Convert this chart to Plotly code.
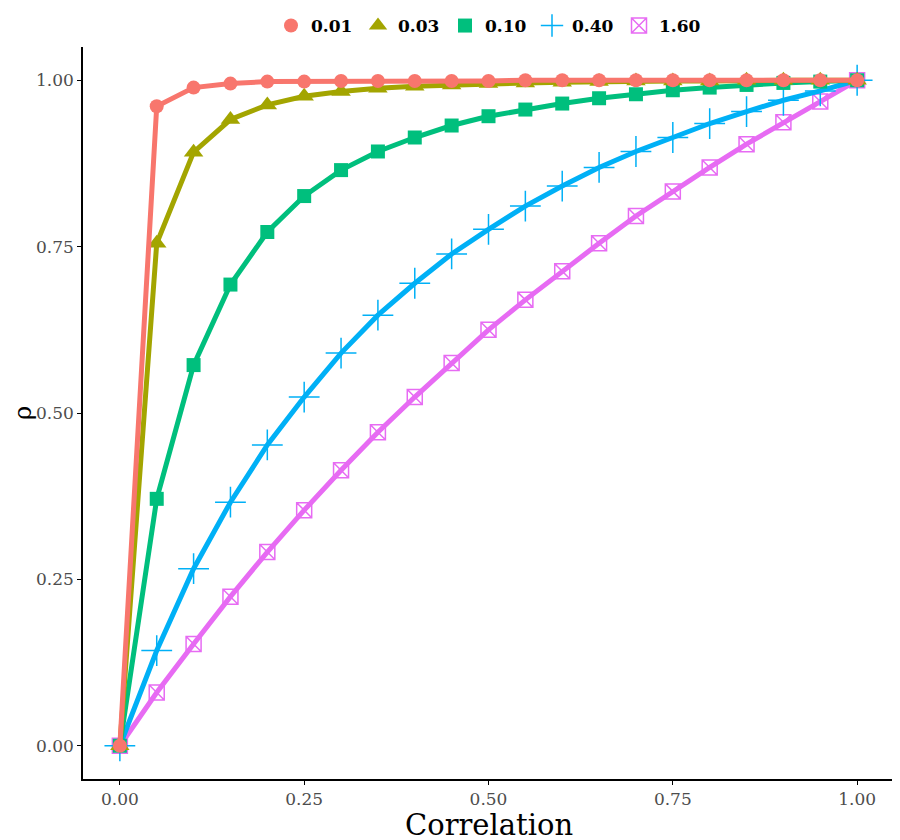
import plotly.graph_objects as go

# correlation grid and rho values per sigma
correlation = [0.00, 0.05, 0.10, 0.15, 0.20, 0.25, 0.30, 0.35, 0.40, 0.45, 0.50,
               0.55, 0.60, 0.65, 0.70, 0.75, 0.80, 0.85, 0.90, 0.95, 1.00]

rho_001 = [0.000, 0.961, 0.989, 0.995, 0.998, 0.998, 0.999, 0.999, 0.999, 0.999, 0.999,
           1.000, 1.000, 1.000, 1.000, 1.000, 1.000, 1.000, 1.000, 1.000, 1.000]
rho_003 = [0.000, 0.755, 0.892, 0.941, 0.963, 0.976, 0.983, 0.988, 0.991, 0.993, 0.995,
           0.996, 0.997, 0.998, 0.999, 0.999, 0.999, 1.000, 1.000, 1.000, 1.000]
rho_010 = [0.000, 0.371, 0.572, 0.693, 0.772, 0.826, 0.865, 0.893, 0.914, 0.932, 0.946,
           0.956, 0.965, 0.973, 0.979, 0.985, 0.989, 0.993, 0.996, 0.998, 1.000]
rho_040 = [0.000, 0.143, 0.266, 0.366, 0.452, 0.524, 0.590, 0.647, 0.695, 0.739, 0.776,
           0.811, 0.841, 0.869, 0.893, 0.914, 0.935, 0.953, 0.970, 0.984, 1.000]
rho_160 = [0.000, 0.080, 0.153, 0.224, 0.291, 0.354, 0.414, 0.471, 0.524, 0.575, 0.625,
           0.670, 0.713, 0.755, 0.796, 0.833, 0.869, 0.904, 0.937, 0.968, 1.000]

series_names = ["0.01", "0.03", "0.10", "0.40", "1.60"]
series_values = [rho_001, rho_003, rho_010, rho_040, rho_160]
colors = ["#F8766D", "#A3A500", "#00BF7D", "#00B0F6", "#E76BF3"]
symbols = ["circle", "triangle-up", "square", "cross-thin", "square-x-open"]
sizes = [14, 17, 14, 22, 15]

fig = go.Figure()

# draw in reverse so the 0.01 series sits on top, like the original
for name, vals, col, sym, sz in reversed(list(zip(series_names, series_values, colors, symbols, sizes))):
    fig.add_trace(go.Scatter(
        x=correlation, y=vals, mode="lines+markers", name=name,
        line=dict(color=col, width=5),
        marker=dict(symbol=sym, size=sz, color=col,
                    line=dict(color=col, width=1.5 if sym in ("cross-thin", "square-x-open") else 0)),
        showlegend=False,
    ))

# legend-only entries (marker glyph only, as ggplot shows them)
for name, col, sym, sz in zip(series_names, colors, symbols, sizes):
    fig.add_trace(go.Scatter(
        x=[None], y=[None], mode="markers", name=name,
        marker=dict(symbol=sym, size=sz, color=col,
                    line=dict(color=col, width=1.5 if sym in ("cross-thin", "square-x-open") else 0)),
    ))

axis_font = dict(family="DejaVu Serif", size=17, color="#4D4D4D")
ticks = [0, 0.25, 0.5, 0.75, 1.0]
tick_labels = ["0.00", "0.25", "0.50", "0.75", "1.00"]

# page body adds an 8px offset, so the figure is 8px smaller than the window
fig.update_layout(
    width=892, height=832,
    plot_bgcolor="white", paper_bgcolor="white",
    margin=dict(l=75, r=6, t=39, b=61, autoexpand=False),
    font=dict(family="DejaVu Serif", color="black"),
    legend=dict(orientation="h", x=0.5, xanchor="center", xref="paper",
                y=1.0, yanchor="top", yref="container",
                font=dict(family="DejaVu Serif", size=17, color="black", weight="bold"),
                itemwidth=30, entrywidth=42, tracegroupgap=0),
    xaxis=dict(
        range=[-0.05, 1.05], tickvals=ticks, ticktext=tick_labels,
        showgrid=False, zeroline=False, showline=True, linecolor="black", linewidth=1.5,
        ticks="outside", ticklen=4, tickcolor="black", tickfont=axis_font, automargin=False,
    ),
    yaxis=dict(
        range=[-0.05, 1.05], tickvals=ticks, ticktext=tick_labels,
        showgrid=False, zeroline=False, showline=True, linecolor="black", linewidth=1.5,
        ticks="outside", ticklen=4, tickcolor="black", tickfont=axis_font, automargin=False,
    ),
)

fig.add_annotation(text="Correlation", xref="paper", yref="paper", x=0.5, y=0,
                   xanchor="center", yanchor="middle", yshift=-46, showarrow=False,
                   font=dict(family="DejaVu Serif", size=29, color="black"))
fig.add_annotation(text="ρ", xref="paper", yref="paper", x=0, y=0.5,
                   xanchor="center", yanchor="middle", xshift=-60, textangle=-90,
                   showarrow=False, font=dict(family="DejaVu Serif", size=24, color="black"))

fig.write_html("out.html")
